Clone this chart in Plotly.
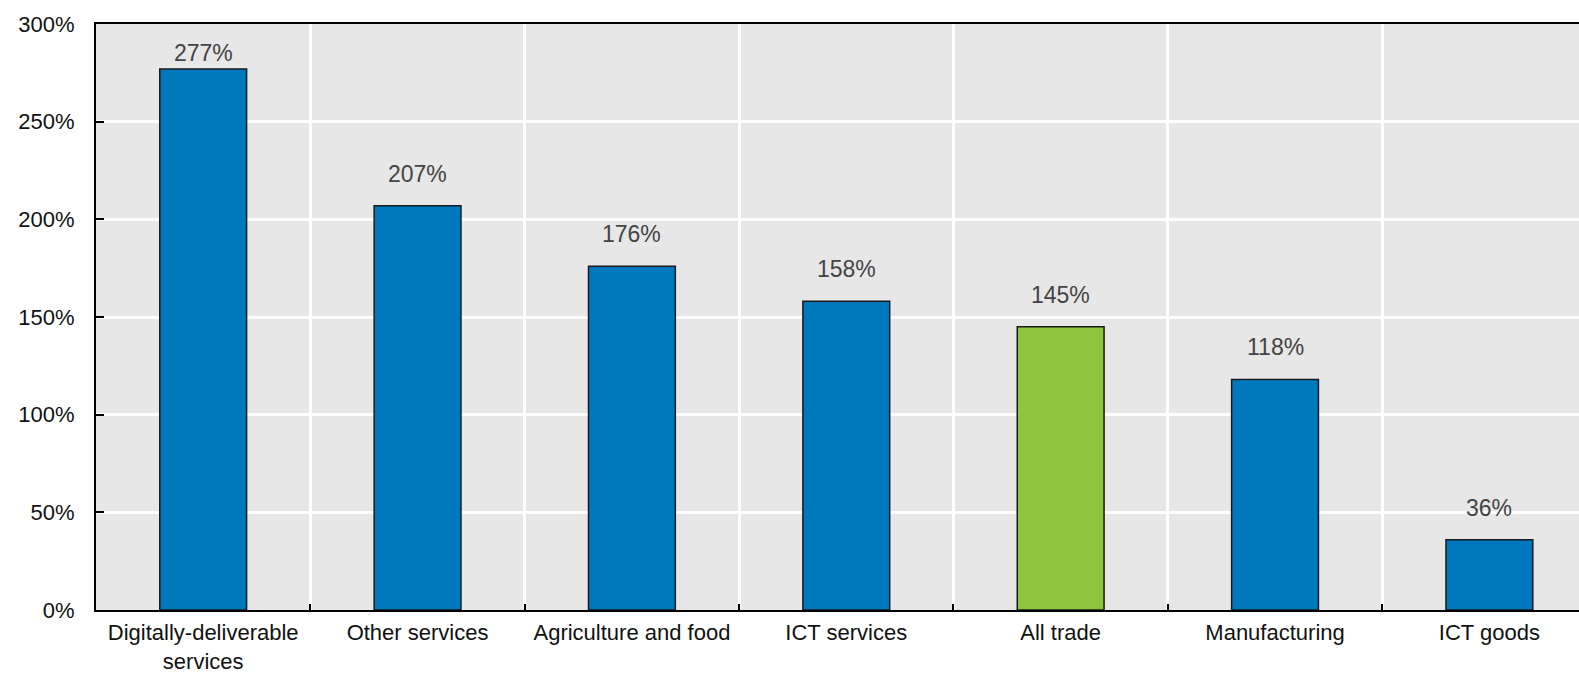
import plotly.graph_objects as go

categories = ["Digitally-deliverable<br>services", "Other services", "Agriculture and food",
              "ICT services", "All trade", "Manufacturing", "ICT goods"]
values = [277, 207, 176, 158, 145, 118, 36]
highlight = "All trade"
y_ticks = [0, 50, 100, 150, 200, 250, 300]
y_ticktext = [f"{v}%" for v in y_ticks]

BLUE = "#0078BE"
GREEN = "#8CC63F"
BG = "#E7E7E7"
FONT = "Liberation Sans, Arial, sans-serif"
FS = 22

x = list(range(len(categories)))
colors = [GREEN if c == highlight else BLUE for c in categories]

fig = go.Figure()
fig.add_trace(go.Bar(
    x=x, y=values, width=0.405,
    marker=dict(color=colors, line=dict(color="#1a1a1a", width=1.5)),
    hoverinfo="skip",
))

ymax = 300
for xi, v in zip(x, values):
    ly = min(v + 16.4, ymax - 14.6)
    fig.add_annotation(x=xi, y=ly, text=f"{v}%", showarrow=False,
                       font=dict(family=FONT, size=FS + 1, color="#444444"),
                       yanchor="middle", xanchor="center")

fig.update_layout(
    width=1579, height=674,
    margin=dict(l=96, r=0, t=24, b=64, autoexpand=False),
    paper_bgcolor="white", plot_bgcolor=BG,
    showlegend=False,
    font=dict(family=FONT, size=FS, color="#111111"),
    xaxis=dict(
        range=[-0.5, 6.418], tickvals=x, ticktext=categories,
        showgrid=False, zeroline=False, ticks="", automargin=False,
        showline=True, linecolor="black", linewidth=2, mirror=True,
        ticklabelstandoff=2,
        tickfont=dict(family=FONT, size=FS, color="#111111"),
        minor=dict(tickvals=[i + 0.5 for i in range(len(categories) - 1)],
                   showgrid=True, gridcolor="white", gridwidth=3,
                   ticks="inside", ticklen=6, tickcolor="black", tickwidth=2),
    ),
    yaxis=dict(
        range=[0, ymax], tickvals=y_ticks, ticktext=y_ticktext,
        showgrid=True, gridcolor="white", gridwidth=3, zeroline=False,
        showline=True, linecolor="black", linewidth=2, automargin=False,
        ticks="inside", ticklen=8, tickcolor="black", tickwidth=2,
        ticklabelstandoff=15,
        tickfont=dict(family=FONT, size=FS, color="#111111"),
    ),
    bargap=0.6,
)

fig.write_html("out.html",
               post_script="document.body.style.margin='0';document.body.style.overflow='hidden';",
               config={"displayModeBar": False})
